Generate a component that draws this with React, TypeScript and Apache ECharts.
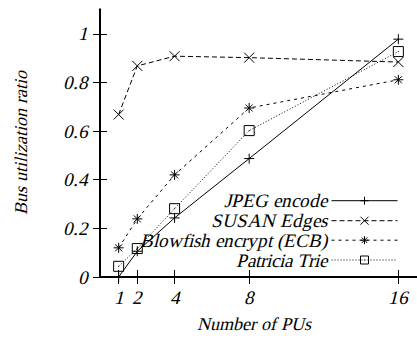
import React, { useEffect, useRef } from "react";
import * as echarts from "echarts";

const pus = [1, 2, 4, 8, 16];
const jpegEncode = [0.0, 0.106, 0.243, 0.487, 0.978];
const susanEdges = [0.668, 0.868, 0.908, 0.902, 0.884];
const blowfish = [0.12, 0.239, 0.42, 0.695, 0.811];
const patricia = [0.044, 0.117, 0.281, 0.602, 0.927];
const seriesNames = ["JPEG encode", "SUSAN Edges", "Blowfish encrypt (ECB)", "Patricia Trie"];
const xTicks = [1, 2, 4, 8, 16];
const yTicks = [0, 0.2, 0.4, 0.6, 0.8, 1];

const FONT = "TimesSlant";
const PLUS = "path://M0,5L10,5M5,0L5,10";
const CROSS = "path://M0,0L10,10M10,0L0,10";
const STAR = "path://M0,5L10,5M5,0L5,10M1.5,1.5L8.5,8.5M8.5,1.5L1.5,8.5";
const SQUARE = "path://M0,0L10,0L10,10L0,10ZM4.5,5L5.5,5";

const FONT_CSS = `@font-face { font-family: "TimesSlant"; src: local("Liberation Serif"), local("LiberationSerif"); font-style: normal; font-weight: 400; }`;

export default function App() {
  const ref = useRef<HTMLDivElement>(null);
  useEffect(() => {
    document.body.style.margin = "0";
    let chart: echarts.ECharts | null = null;
    let cancelled = false;
    const draw = () => {
      if (cancelled || !ref.current) return;
      chart = echarts.init(ref.current, null, { renderer: "svg" });
      const values = [jpegEncode, susanEdges, blowfish, patricia];
      const symbols = [PLUS, CROSS, STAR, SQUARE];
      const sizes = [10, 10, 10, 10];
      const dashes: any[] = ["solid", [5, 3], [3, 4], [1, 2]];
      const textStyle = { fontFamily: FONT, fontStyle: "italic", fontSize: 19, color: "#000" };
      const rowCenters = [200.7, 220.7, 240.2, 260];
      const legends = seriesNames.map((n, i) => ({
        data: [n],
        right: 19,
        top: rowCenters[i] - 10,
        align: "right",
        orient: "vertical",
        padding: 0,
        itemWidth: 66,
        itemHeight: 10,
        textStyle: { ...textStyle, lineHeight: 20 },
        lineStyle: { width: 1, color: "#000" },
        itemStyle: { color: "none", borderColor: "#000", borderWidth: 1 },
        selectedMode: false,
      }));
      const axisCommon = {
        type: "value",
        axisLine: { show: true, lineStyle: { color: "#000", width: 2 } },
        splitLine: { show: false },
      };
      chart.setOption({
        animation: false,
        grid: { left: 100, top: 9.5, width: 322, height: 268, containLabel: false },
        legend: legends,
        xAxis: [
          {
            ...axisCommon,
            min: 0,
            max: 17,
            position: "bottom",
            axisTick: { show: true, inside: true, length: 7, customValues: xTicks, lineStyle: { color: "#000" } },
            axisLabel: { ...textStyle, margin: 11, customValues: xTicks, formatter: (v: number) => String(v) },
            name: "Number of PUs",
            nameLocation: "middle",
            nameGap: 38,
            nameTextStyle: { ...textStyle, fontSize: 18, padding: [0, 9, 0, 0] },
          },
          {
            ...axisCommon,
            min: 0,
            max: 17,
            position: "top",
            axisTick: { show: true, inside: true, length: 7, customValues: xTicks, lineStyle: { color: "#000" } },
            axisLabel: { show: false },
          },
        ],
        yAxis: [
          {
            ...axisCommon,
            min: 0,
            max: 1.1,
            position: "left",
            axisTick: { show: true, inside: true, length: 7, customValues: yTicks, lineStyle: { color: "#000" } },
            axisLabel: { ...textStyle, margin: 12, customValues: yTicks, formatter: (v: number) => String(v) },
            name: "Bus utilization ratio",
            nameLocation: "middle",
            nameGap: 70,
            nameTextStyle: { ...textStyle, fontSize: 18 },
          },
          {
            ...axisCommon,
            min: 0,
            max: 1.1,
            position: "right",
            axisTick: { show: true, inside: true, length: 7, customValues: yTicks, lineStyle: { color: "#000" } },
            axisLabel: { show: false },
          },
        ],
        series: seriesNames.map((n, i) => ({
          name: n,
          type: "line",
          data: pus.map((p, j) => [p, values[i][j]]),
          symbol: symbols[i],
          symbolSize: sizes[i],
          showAllSymbol: true,
          silent: true,
          emphasis: { disabled: true },
          lineStyle: { color: "#000", width: 1, type: dashes[i] },
          itemStyle: { color: "none", borderColor: "#000", borderWidth: 1 },
        })),
      });
    };
    const fontsApi = (document as any).fonts;
    if (fontsApi && fontsApi.load) {
      fontsApi.load('italic 19px "TimesSlant"').then(draw, draw);
    } else {
      draw();
    }
    return () => {
      cancelled = true;
      if (chart) chart.dispose();
    };
  }, []);
  return (
    <>
      <style>{FONT_CSS}</style>
      <div ref={ref} style={{ width: 417, height: 338 }} />
    </>
  );
}
